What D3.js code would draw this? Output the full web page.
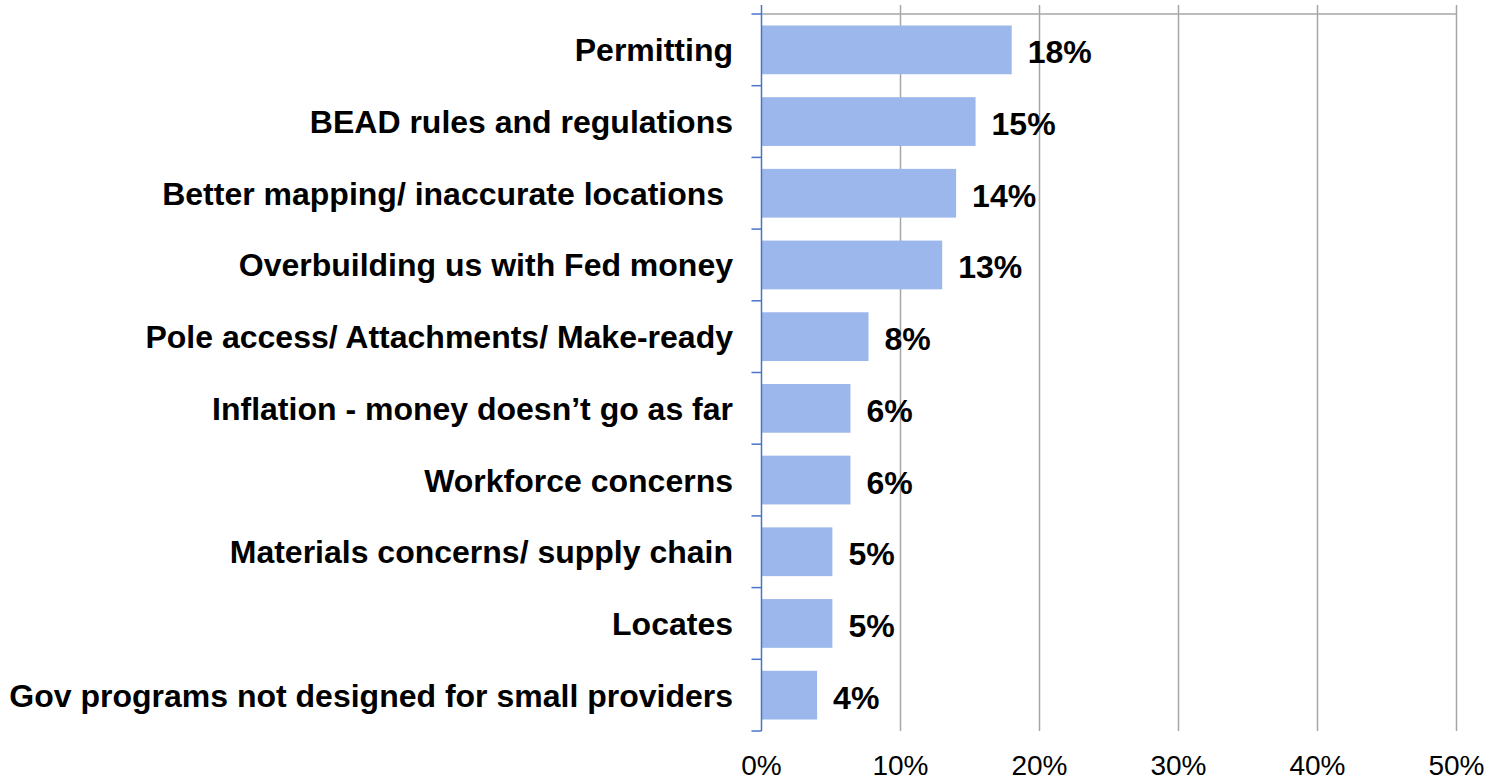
<!DOCTYPE html>
<html>
<head>
<meta charset="utf-8">
<script src="https://cdn.jsdelivr.net/npm/d3@7"></script>
<style>
  html, body { margin: 0; padding: 0; background: #ffffff; }
  svg { display: block; }
  text { font-family: "Liberation Sans", Arial, Helvetica, sans-serif; }
</style>
</head>
<body>
<svg id="chart" width="1489" height="780"></svg>
<script>
// Survey responses: biggest obstacles to broadband deployment
const categories = [
  "Permitting",
  "BEAD rules and regulations",
  "Better mapping/ inaccurate locations ",
  "Overbuilding us with Fed money",
  "Pole access/ Attachments/ Make-ready",
  "Inflation - money doesn\u2019t go as far",
  "Workforce concerns",
  "Materials concerns/ supply chain",
  "Locates",
  "Gov programs not designed for small providers"
];
const shares = [0.180, 0.154, 0.140, 0.130, 0.077, 0.064, 0.064, 0.051, 0.051, 0.040];
const xTicks = [0, 0.1, 0.2, 0.3, 0.4, 0.5];

const data = categories.map((c, i) => ({ category: c, value: shares[i] }));

const svg = d3.select("#chart");
const x0 = 761.5, x1 = 1456.5, yTop = 14, yBottom = 731;

const x = d3.scaleLinear().domain([0, 0.5]).range([x0, x1]);
const y = d3.scaleBand()
  .domain(categories)
  .range([yTop, yBottom])
  .paddingInner(0.32)
  .paddingOuter(0.16);

const pct = d3.format(".0%");
const gridColor = "#A6A6A6";
const axisColor = "#4A74C9";

// vertical gridlines
svg.append("g")
  .selectAll("line")
  .data(xTicks.slice(1))
  .join("line")
  .attr("x1", d => x(d)).attr("x2", d => x(d))
  .attr("y1", 5).attr("y2", yBottom)
  .attr("stroke", gridColor)
  .attr("stroke-width", 1.5);

// top border line
svg.append("line")
  .attr("x1", x0).attr("x2", x1)
  .attr("y1", yTop).attr("y2", yTop)
  .attr("stroke", gridColor)
  .attr("stroke-width", 1.5);

// bars
svg.append("g")
  .selectAll("rect")
  .data(data)
  .join("rect")
  .attr("x", x(0))
  .attr("y", d => y(d.category))
  .attr("width", d => x(d.value) - x(0))
  .attr("height", y.bandwidth())
  .attr("fill", "#9CB7EB");

// category axis line and ticks at band boundaries
const bounds = d3.range(categories.length + 1).map(i => yTop + i * (yBottom - yTop) / categories.length);
svg.append("line")
  .attr("x1", x0).attr("x2", x0)
  .attr("y1", 5).attr("y2", yBottom)
  .attr("stroke", axisColor)
  .attr("stroke-width", 1.5);
svg.append("g")
  .selectAll("line")
  .data(bounds)
  .join("line")
  .attr("x1", x0 - 10).attr("x2", x0)
  .attr("y1", d => d).attr("y2", d => d)
  .attr("stroke", axisColor)
  .attr("stroke-width", 1.5);

// category labels
svg.append("g")
  .selectAll("text")
  .data(data)
  .join("text")
  .attr("x", 733)
  .attr("y", d => y(d.category) + y.bandwidth() / 2 + 11.5)
  .attr("text-anchor", "end")
  .attr("font-size", 32)
  .attr("font-weight", "bold")
  .attr("fill", "#000")
  .style("white-space", "pre")
  .text(d => d.category);

// value labels
svg.append("g")
  .selectAll("text")
  .data(data)
  .join("text")
  .attr("x", d => x(d.value) + 16)
  .attr("y", d => y(d.category) + y.bandwidth() / 2 + 13.5)
  .attr("font-size", 32)
  .attr("font-weight", "bold")
  .attr("fill", "#000")
  .text(d => pct(d.value));

// x tick labels
svg.append("g")
  .selectAll("text")
  .data(xTicks)
  .join("text")
  .attr("x", d => x(d))
  .attr("y", 775)
  .attr("text-anchor", "middle")
  .attr("font-size", 28)
  .attr("fill", "#000")
  .text(d => pct(d));
</script>
</body>
</html>
